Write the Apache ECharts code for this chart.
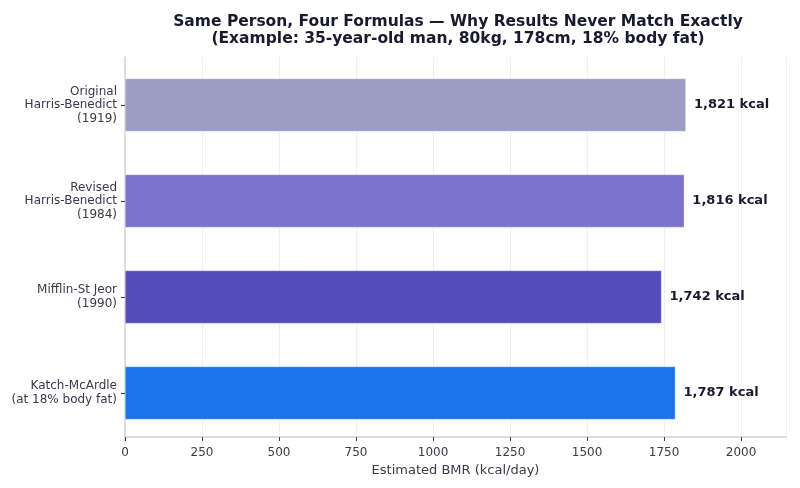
<!DOCTYPE html>
<html>
<head>
<meta charset="utf-8">
<script src="https://cdn.jsdelivr.net/npm/echarts@6/dist/echarts.min.js"></script>
<style>
  html, body { margin: 0; padding: 0; background: #fff; }
  #chart { width: 800px; height: 488px; }
</style>
</head>
<body>
<div id="chart"></div>
<script>
// formulas, top to bottom
const formulas = [
  "Original\nHarris-Benedict\n(1919)",
  "Revised\nHarris-Benedict\n(1984)",
  "Mifflin-St Jeor\n(1990)",
  "Katch-McArdle\n(at 18% body fat)"
];
const bmrValues = [1821, 1816, 1742, 1787];
const barColors = ["#9c9cc5", "#7b74cf", "#534dba", "#1a73e8"];

const FONT = "DejaVu Sans";

var chart = echarts.init(document.getElementById("chart"));
chart.setOption({
  animation: false,
  textStyle: { fontFamily: FONT },
  title: {
    text: "Same Person, Four Formulas — Why Results Never Match Exactly\n(Example: 35-year-old man, 80kg, 178cm, 18% body fat)",
    left: 453,
    top: 8,
    textAlign: "center",
    textStyle: {
      fontFamily: FONT,
      fontSize: 15.5,
      fontWeight: "bold",
      color: "#1a1a2e",
      lineHeight: 17.5
    }
  },
  grid: {
    left: 125,
    right: 14,
    top: 57,
    bottom: 47,
    containLabel: false
  },
  xAxis: {
    type: "value",
    min: 0,
    max: 2146,
    interval: 250,
    offset: -4,
    name: "Estimated BMR (kcal/day)",
    nameLocation: "middle",
    nameGap: 23,
    nameTextStyle: { fontFamily: FONT, fontSize: 13, color: "#3a3a4a" },
    axisLine: { show: true, lineStyle: { color: "#d4d4d4", width: 1.5 } },
    axisTick: { show: true, length: 4, lineStyle: { color: "#3a3a4a" } },
    axisLabel: {
      fontFamily: FONT,
      fontSize: 12,
      color: "#3a3a4a",
      margin: 10,
      showMaxLabel: false,
      formatter: function (v) { return v <= 2000 ? String(v) : ""; }
    },
    splitLine: { show: true, lineStyle: { color: "#efefef", width: 1 } }
  },
  yAxis: {
    type: "category",
    inverse: true,
    data: formulas,
    axisLine: { show: true, lineStyle: { color: "#d4d4d4", width: 1.5 } },
    axisTick: { show: true, alignWithLabel: true, length: 4, lineStyle: { color: "#3a3a4a" } },
    axisLabel: {
      fontFamily: FONT,
      fontSize: 12,
      color: "#3a3a4a",
      lineHeight: 13.5,
      margin: 8,
      align: "right"
    }
  },
  series: [{
    type: "bar",
    barWidth: 53,
    data: bmrValues.map(function (v, i) {
      return { value: v, itemStyle: { color: barColors[i] } };
    }),
    itemStyle: { borderColor: "rgba(255,255,255,0.5)", borderWidth: 0.6 },
    label: {
      show: true,
      position: "right",
      distance: 8,
      fontFamily: FONT,
      fontSize: 13,
      fontWeight: "bold",
      color: "#1a1a2e",
      formatter: function (p) { return p.value.toLocaleString("en-US") + " kcal"; }
    }
  }]
});
</script>
</body>
</html>
